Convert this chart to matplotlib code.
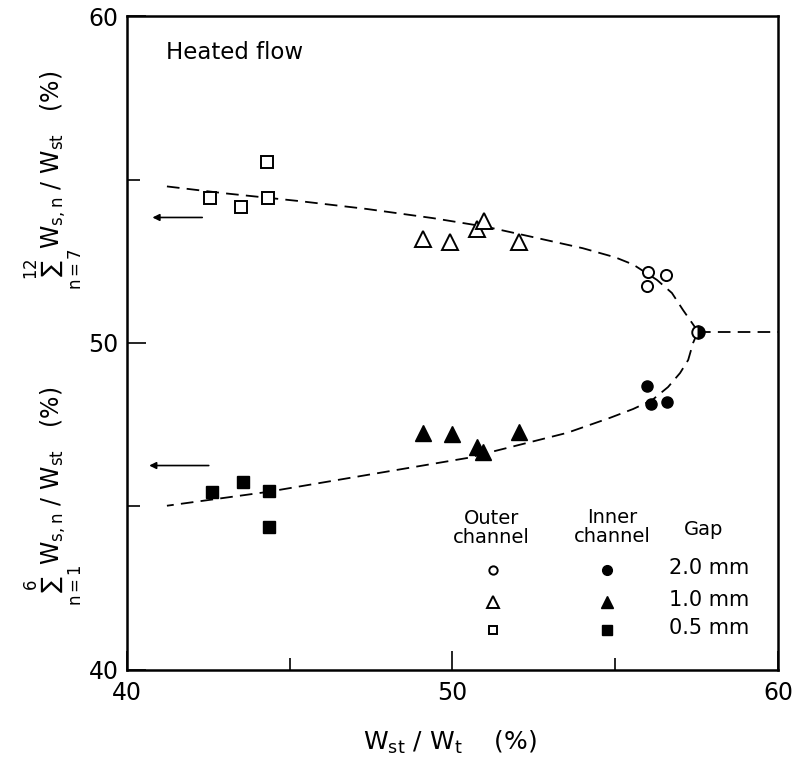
import matplotlib
matplotlib.use("Agg")
from matplotlib import pyplot as plt

plt.rcParams.update({
    "font.family": ["DejaVu Sans"],
    "font.size": 16,
    "mathtext.fontset": "custom",
    "mathtext.rm": "DejaVu Sans",
    "mathtext.it": "DejaVu Sans",
    "mathtext.sf": "DejaVu Sans",
})

# Outer channel (open markers)
outer_sq_x = [42.55, 43.5, 44.3, 44.33]
outer_sq_y = [54.45, 54.15, 55.55, 54.45]
outer_tri_x = [49.09, 49.92, 50.75, 50.97, 52.04]
outer_tri_y = [53.17, 53.1, 53.48, 53.72, 53.1]
outer_circ_x = [56.0, 56.56, 55.97]
outer_circ_y = [52.17, 52.07, 51.74]

# Inner channel (filled markers)
inner_sq_x = [42.61, 43.56, 44.36, 44.36]
inner_sq_y = [45.43, 45.76, 45.46, 44.36]
inner_tri_x = [49.09, 50.0, 50.75, 50.94, 52.04]
inner_tri_y = [47.26, 47.2, 46.83, 46.65, 47.29]
inner_circ_x = [55.97, 56.1, 56.59]
inner_circ_y = [48.69, 48.14, 48.2]

# junction point where both branches meet
tip_x, tip_y = 57.54, 50.35

# dashed curves
upper_curve_x = [41.23, 43.0, 45.31, 47.37, 49.4, 51.06, 52.47, 54.0, 55.0,
                 55.55, 56.28, 56.74, 57.08, 57.36, 57.54]
upper_curve_y = [54.79, 54.58, 54.34, 54.1, 53.82, 53.55, 53.24, 52.9, 52.62,
                 52.4, 51.93, 51.53, 51.01, 50.61, 50.35]
lower_curve_x = [57.54, 57.39, 57.24, 56.99, 56.62, 56.13, 55.55, 54.84,
                 53.52, 50.45, 47.37, 44.3, 41.23]
lower_curve_y = [50.35, 50.0, 49.48, 49.08, 48.65, 48.25, 47.98, 47.71,
                 47.25, 46.48, 45.96, 45.44, 45.02]

gap_labels = ["2.0 mm", "1.0 mm", "0.5 mm"]
legend_rows = [43.06, 42.08, 41.22]

fig = plt.figure(figsize=(7.98, 7.69), dpi=100)
ax = fig.add_axes([0.159, 0.129, 0.816, 0.85])

dash = dict(color="black", lw=1.3, dashes=(7, 4))
ax.plot(upper_curve_x, upper_curve_y, **dash)
ax.plot(lower_curve_x, lower_curve_y, **dash)
ax.plot([tip_x, 60], [tip_y, tip_y], **dash)

op = dict(ls="none", mfc="white", mec="black", mew=1.4)
fi = dict(ls="none", mfc="black", mec="black")
ax.plot(outer_sq_x, outer_sq_y, "s", ms=9, **op)
ax.plot(outer_tri_x, outer_tri_y, "^", ms=11, **op)
ax.plot(outer_circ_x, outer_circ_y, "o", ms=8, **op)
ax.plot(inner_sq_x, inner_sq_y, "s", ms=9, **fi)
ax.plot(inner_tri_x, inner_tri_y, "^", ms=11, **fi)
ax.plot(inner_circ_x, inner_circ_y, "o", ms=8, **fi)
ax.plot([tip_x], [tip_y], "o", ms=9, fillstyle="right", mfc="black",
        mfcalt="white", mec="black", mew=1.4)

# arrows pointing to the left axis labels
ax.annotate("", xy=(40.7, 53.84), xytext=(42.4, 53.84),
            arrowprops=dict(arrowstyle="-|>", color="black", lw=1.2,
                            mutation_scale=10))
ax.annotate("", xy=(40.6, 46.25), xytext=(42.6, 46.25),
            arrowprops=dict(arrowstyle="-|>", color="black", lw=1.2,
                            mutation_scale=10))

ax.text(41.2, 58.9, "Heated flow", fontsize=16.5, va="center", ha="left")

# legend drawn by hand
ax.text(51.2, 44.34, "Outer\nchannel", fontsize=14, ha="center", va="center",
        linespacing=1.05)
ax.text(54.9, 44.37, "Inner\nchannel", fontsize=14, ha="center", va="center",
        linespacing=1.05)
ax.text(57.7, 44.28, "Gap", fontsize=14, ha="center", va="center")
lx_outer, lx_inner = 51.24, 54.75
ax.plot([lx_outer], [legend_rows[0]], "o", ms=6, **op)
ax.plot([lx_outer], [legend_rows[1]], "^", ms=8, **op)
ax.plot([lx_outer], [legend_rows[2]], "s", ms=6, **op)
ax.plot([lx_inner], [legend_rows[0]], "o", ms=7, **fi)
ax.plot([lx_inner], [legend_rows[1]], "^", ms=8, **fi)
ax.plot([lx_inner], [legend_rows[2]], "s", ms=7, **fi)
for yy, lab in zip(legend_rows, gap_labels):
    ax.text(56.65, yy + 0.05, lab, fontsize=15, ha="left", va="center")

ax.set_xlim(40, 60)
ax.set_ylim(40, 60)
ax.set_xticks([40, 50, 60])
ax.set_yticks([40, 50, 60])
ax.set_xticks([45, 55], minor=True)
ax.set_yticks([45, 55], minor=True)
ax.tick_params(axis="both", which="major", direction="in", length=14, width=1.2,
               labelsize=17, pad=6)
ax.tick_params(axis="both", which="minor", direction="in", length=9, width=1.2)
ax.tick_params(axis="x", which="major", pad=8)
for s in ax.spines.values():
    s.set_linewidth(1.8)

fig.text(0.564, 0.034, r"$\mathrm{W_{st}\ /\ W_t}$    (%)", fontsize=18,
         ha="center", va="center")
fig.text(0.066, 0.766, r"$\sum_{n=7}^{12}\mathrm{W_{s,n}\ /\ W_{st}}$   (%)",
         fontsize=17, rotation=90, ha="center", va="center")
fig.text(0.066, 0.355, r"$\sum_{n=1}^{6}\mathrm{W_{s,n}\ /\ W_{st}}$   (%)",
         fontsize=17, rotation=90, ha="center", va="center")

fig.savefig("out.png", dpi=100)
